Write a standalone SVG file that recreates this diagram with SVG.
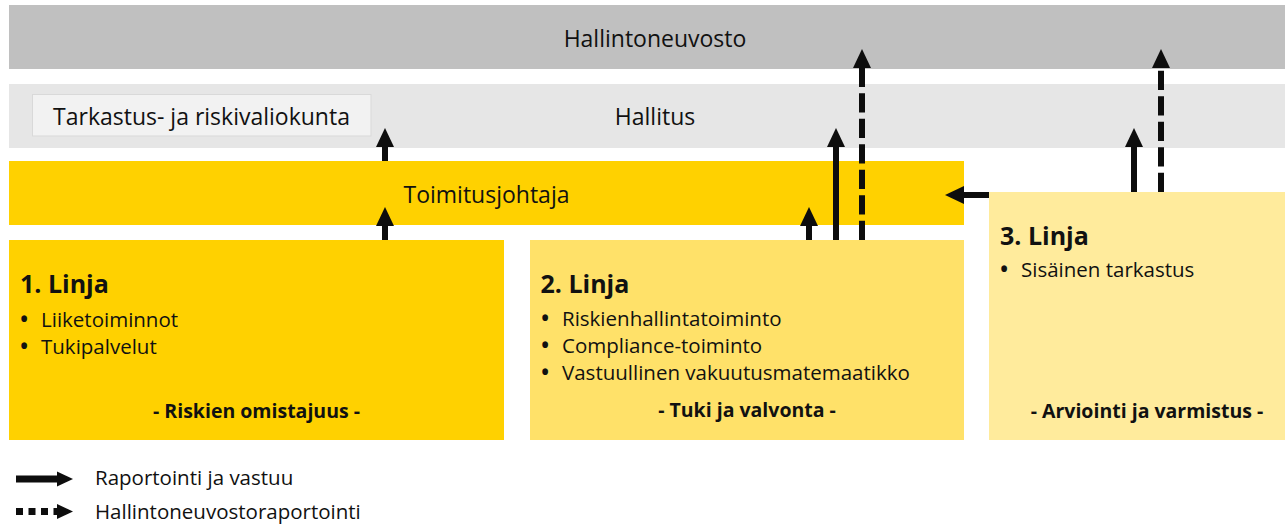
<svg xmlns="http://www.w3.org/2000/svg" width="1285" height="528" viewBox="0 0 1285 528">
<style>
text{font-family:"Open Sans","Noto Sans","Liberation Sans",sans-serif;fill:#111}
.h{font-size:23px;text-anchor:middle}
.t{font-size:25px;font-weight:bold}
.b{font-size:20.5px}
.bu{font-size:20.5px;font-weight:bold;text-anchor:middle}
.f{font-size:19.5px;font-weight:bold;text-anchor:middle}
.lg{font-size:20.5px}
.ar{fill:none;stroke:#0d0d0d;stroke-width:6}
.dash{stroke-dasharray:19.3 6.2}
</style>
<defs>
<marker id="head" markerUnits="userSpaceOnUse" markerWidth="19" markerHeight="18" refX="0" refY="9" orient="auto" overflow="visible">
<path d="M0,0 L19,9 L0,18 Z" fill="#0d0d0d"/>
</marker>
<marker id="headS" markerUnits="userSpaceOnUse" markerWidth="16" markerHeight="16" refX="0" refY="7.5" orient="auto" overflow="visible">
<path d="M0,0 L16,7.5 L0,15 Z" fill="#0d0d0d"/>
</marker>
</defs>
<rect width="1285" height="528" fill="#fff"/>
<g id="hallintoneuvosto">
<rect x="9" y="5" width="1276" height="64" fill="#C0C0C0"/>
<text class="h" x="655" y="46.5">Hallintoneuvosto</text>
</g>
<g id="hallitus">
<rect x="9" y="84" width="1276" height="64" fill="#E6E6E6"/>
<text class="h" x="655" y="124.5">Hallitus</text>
</g>
<g id="tarkastus">
<rect x="32.5" y="94.5" width="338.5" height="41.5" fill="#F2F2F2" stroke="#D9D9D9" stroke-width="1"/>
<text class="h" x="201.5" y="125">Tarkastus- ja riskivaliokunta</text>
</g>
<g id="toimitusjohtaja">
<rect x="9" y="161" width="955" height="64" fill="#FFD100"/>
<text class="h" x="486.5" y="202.5">Toimitusjohtaja</text>
</g>
<g id="linja1">
<rect x="9" y="240" width="495" height="200" fill="#FFD100"/>
<text class="t" x="20" y="293">1. Linja</text>
<text class="bu" x="24" y="326.5">•</text>
<text class="b" x="41" y="326.5">Liiketoiminnot</text>
<text class="bu" x="24" y="353.5">•</text>
<text class="b" x="41" y="353.5">Tukipalvelut</text>
<text class="f" x="256.5" y="418">- Riskien omistajuus -</text>
</g>
<g id="linja2">
<rect x="530" y="240" width="434" height="200" fill="#FFE169"/>
<text class="t" x="540.5" y="293">2. Linja</text>
<text class="bu" x="545" y="325.5">•</text>
<text class="b" x="562" y="325.5">Riskienhallintatoiminto</text>
<text class="bu" x="545" y="352.5">•</text>
<text class="b" x="562" y="352.5">Compliance-toiminto</text>
<text class="bu" x="545" y="380">•</text>
<text class="b" x="562" y="380">Vastuullinen vakuutusmatemaatikko</text>
<text class="f" x="747" y="417">- Tuki ja valvonta -</text>
</g>
<g id="linja3">
<rect x="989" y="192" width="296" height="248" fill="#FFEB9C"/>
<text class="t" x="1000" y="245">3. Linja</text>
<text class="bu" x="1004" y="276.5">•</text>
<text class="b" x="1021" y="276.5">Sisäinen tarkastus</text>
<text class="f" x="1147" y="418">- Arviointi ja varmistus -</text>
</g>
<g id="connectors">
<path class="ar" d="M385,161 V147" marker-end="url(#head)"/>
<path class="ar" d="M385,240 V226" marker-end="url(#head)"/>
<path class="ar" d="M809,240 V226" marker-end="url(#head)"/>
<path class="ar" d="M836,240 V147" marker-end="url(#head)"/>
<path class="ar dash" d="M862,240 V68" marker-end="url(#head)"/>
<path class="ar" d="M989,195 H964" marker-end="url(#head)"/>
<path class="ar" d="M1134,192 V147" marker-end="url(#head)"/>
<path class="ar dash" d="M1161,192 V68" marker-end="url(#head)"/>
</g>
<g id="legend">
<path d="M16,479 H57" stroke="#0d0d0d" stroke-width="7" fill="none" marker-end="url(#headS)"/>
<text class="lg" x="95" y="485">Raportointi ja vastuu</text>
<path d="M16,511.5 H57" stroke="#0d0d0d" stroke-width="7" stroke-dasharray="7 5.5" fill="none" marker-end="url(#headS)"/>
<text class="lg" x="95" y="518.5">Hallintoneuvostoraportointi</text>
</g>
</svg>
